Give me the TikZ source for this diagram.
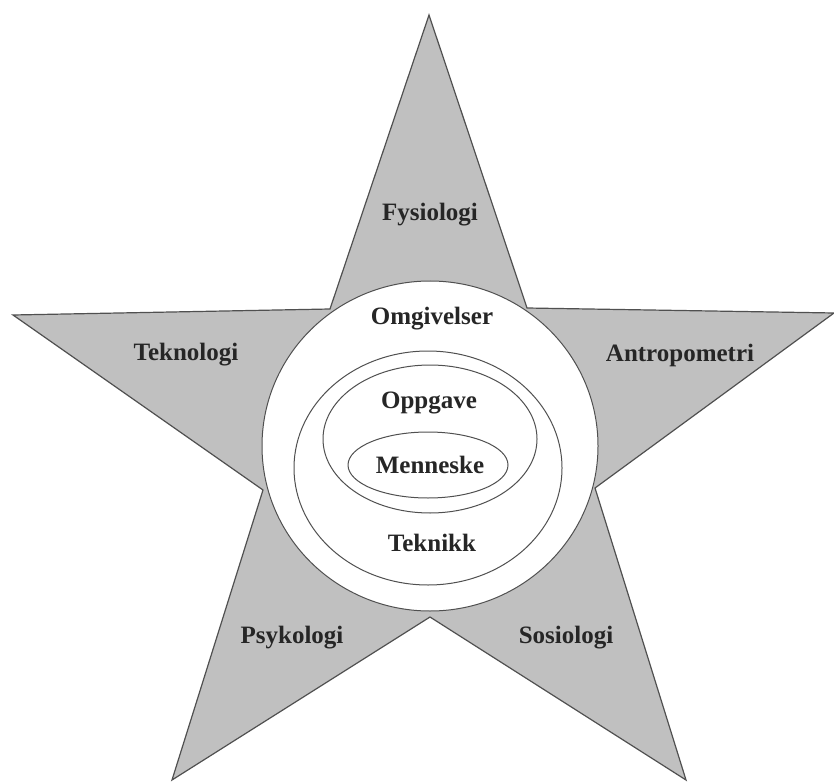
\documentclass[tikz,border=0pt]{standalone}
\usepackage{fontspec}
\setmainfont{Liberation Serif}
\definecolor{stargray}{RGB}{192,192,192}
\definecolor{edgegray}{RGB}{80,80,80}
\begin{document}
\begin{tikzpicture}[x=1pt,y=-1pt,
  starfill/.style={fill=stargray,draw=edgegray,line width=1.2pt,line join=miter},
  ring/.style={draw=edgegray,line width=1pt},
  lbl/.style={font=\fontsize{25}{28}\selectfont\bfseries,text=black!85}]
\useasboundingbox (0,0) rectangle (834,783);
% star vertices
\coordinate (T) at (429,15);
\coordinate (UR) at (527,308);
\coordinate (R) at (834,313);
\coordinate (LR) at (595,488);
\coordinate (BR) at (686,780);
\coordinate (BI) at (430,617);
\coordinate (BL) at (172,780);
\coordinate (LL) at (263,490);
\coordinate (L) at (13,315);
\coordinate (UL) at (330,309);
\draw[starfill] (T) -- (UR) -- (R) -- (LR) -- (BR) -- (BI) -- (BL) -- (LL) -- (L) -- (UL) -- cycle;
% circles
\draw[ring,fill=white] (430,446) ellipse [x radius=168, y radius=165];
\draw[ring] (428,468) ellipse [x radius=134, y radius=117];
\draw[ring] (430,439) ellipse [x radius=107, y radius=74];
\draw[ring] (428,465) ellipse [x radius=80, y radius=33];
% labels
\node[lbl] (omg) at (432,319) {Omgivelser};
\node[lbl] (opp) at (429,403) {Oppgave};
\node[lbl] (men) at (430,465) {Menneske};
\node[lbl] (tek) at (432,543) {Teknikk};
\node[lbl] (fys) at (430,215) {Fysiologi};
\node[lbl] (teknol) at (186,355) {Teknologi};
\node[lbl] (antro) at (680,355) {Antropometri};
\node[lbl] (psy) at (292,638) {Psykologi};
\node[lbl] (sos) at (566,638) {Sosiologi};
\end{tikzpicture}
\end{document}
